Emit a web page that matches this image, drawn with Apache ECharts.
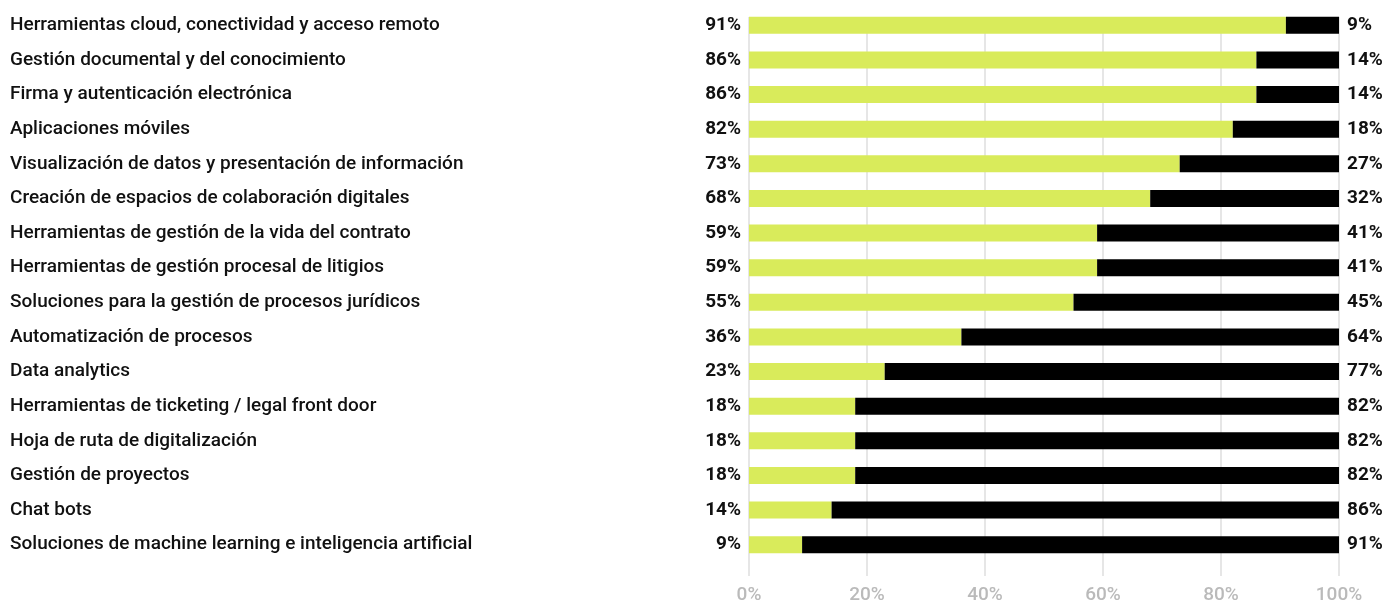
<!DOCTYPE html>
<html>
<head>
<meta charset="utf-8">
<script src="https://cdn.jsdelivr.net/npm/echarts@6/dist/echarts.min.js"></script>
<style>
  html, body { margin: 0; padding: 0; background: #fff; }
  #chart { width: 1383px; height: 605px; }
</style>
</head>
<body>
<div id="chart"></div>
<script>
// Tools and practices, share of "yes" vs "no" answers (percent)
const categories = [
  'Herramientas cloud, conectividad y acceso remoto',
  'Gestión documental y del conocimiento',
  'Firma y autenticación electrónica',
  'Aplicaciones móviles',
  'Visualización de datos y presentación de información',
  'Creación de espacios de colaboración digitales',
  'Herramientas de gestión de la vida del contrato',
  'Herramientas de gestión procesal de litigios',
  'Soluciones para la gestión de procesos jurídicos',
  'Automatización de procesos',
  'Data analytics',
  'Herramientas de ticketing / legal front door',
  'Hoja de ruta de digitalización',
  'Gestión de proyectos',
  'Chat bots',
  'Soluciones de machine learning e inteligencia artificial'
];
const yesValues = [91, 86, 86, 82, 73, 68, 59, 59, 55, 36, 23, 18, 18, 18, 14, 9];
const noValues  = [9, 14, 14, 18, 27, 32, 41, 41, 45, 64, 77, 82, 82, 82, 86, 91];
const xTicks = [0, 20, 40, 60, 80, 100];

const chart = echarts.init(document.getElementById('chart'), null, { renderer: 'canvas' });

const pctLabel = {
  show: true,
  distance: 8,
  fontFamily: 'Roboto',
  fontWeight: 'bold',
  fontSize: 19,
  color: '#111',
  formatter: p => p.value + '%'
};

chart.setOption({
  animation: false,
  backgroundColor: '#fff',
  grid: [
    // bars
    { left: 749, right: 44, top: 8, bottom: 43 },
    // scale with gridlines
    { left: 749, right: 44, top: 17, bottom: 27 }
  ],
  xAxis: [
    { gridIndex: 0, type: 'value', min: 0, max: 100, show: false },
    {
      gridIndex: 1, type: 'value', min: xTicks[0], max: xTicks[xTicks.length - 1], interval: 20,
      axisLine: { show: false }, axisTick: { show: false },
      splitLine: { show: true, lineStyle: { color: '#e6e6e6', width: 2 } },
      axisLabel: {
        color: '#bababa', fontFamily: 'Roboto', fontWeight: 500, fontSize: 19, margin: 10,
        formatter: v => v + '%'
      }
    }
  ],
  yAxis: [
    {
      gridIndex: 0, type: 'category', data: categories, inverse: true,
      axisLine: { show: false }, axisTick: { show: false },
      axisLabel: {
        align: 'left', margin: 739, color: '#111',
        fontFamily: 'Roboto', fontWeight: 500, fontSize: 19,
        padding: [0, 0, 7, 0]
      }
    },
    { gridIndex: 1, type: 'value', show: false }
  ],
  series: [
    {
      name: 'Sí', type: 'bar', stack: 'total', xAxisIndex: 0, yAxisIndex: 0,
      data: yesValues, barWidth: 17, z: 3,
      itemStyle: { color: '#d9eb5b' },
      label: Object.assign({ position: 'left' }, pctLabel)
    },
    {
      name: 'No', type: 'bar', stack: 'total', xAxisIndex: 0, yAxisIndex: 0,
      data: noValues, barWidth: 17, z: 3,
      itemStyle: { color: '#000' },
      label: Object.assign({ position: 'right' }, pctLabel)
    }
  ]
});
</script>
</body>
</html>
